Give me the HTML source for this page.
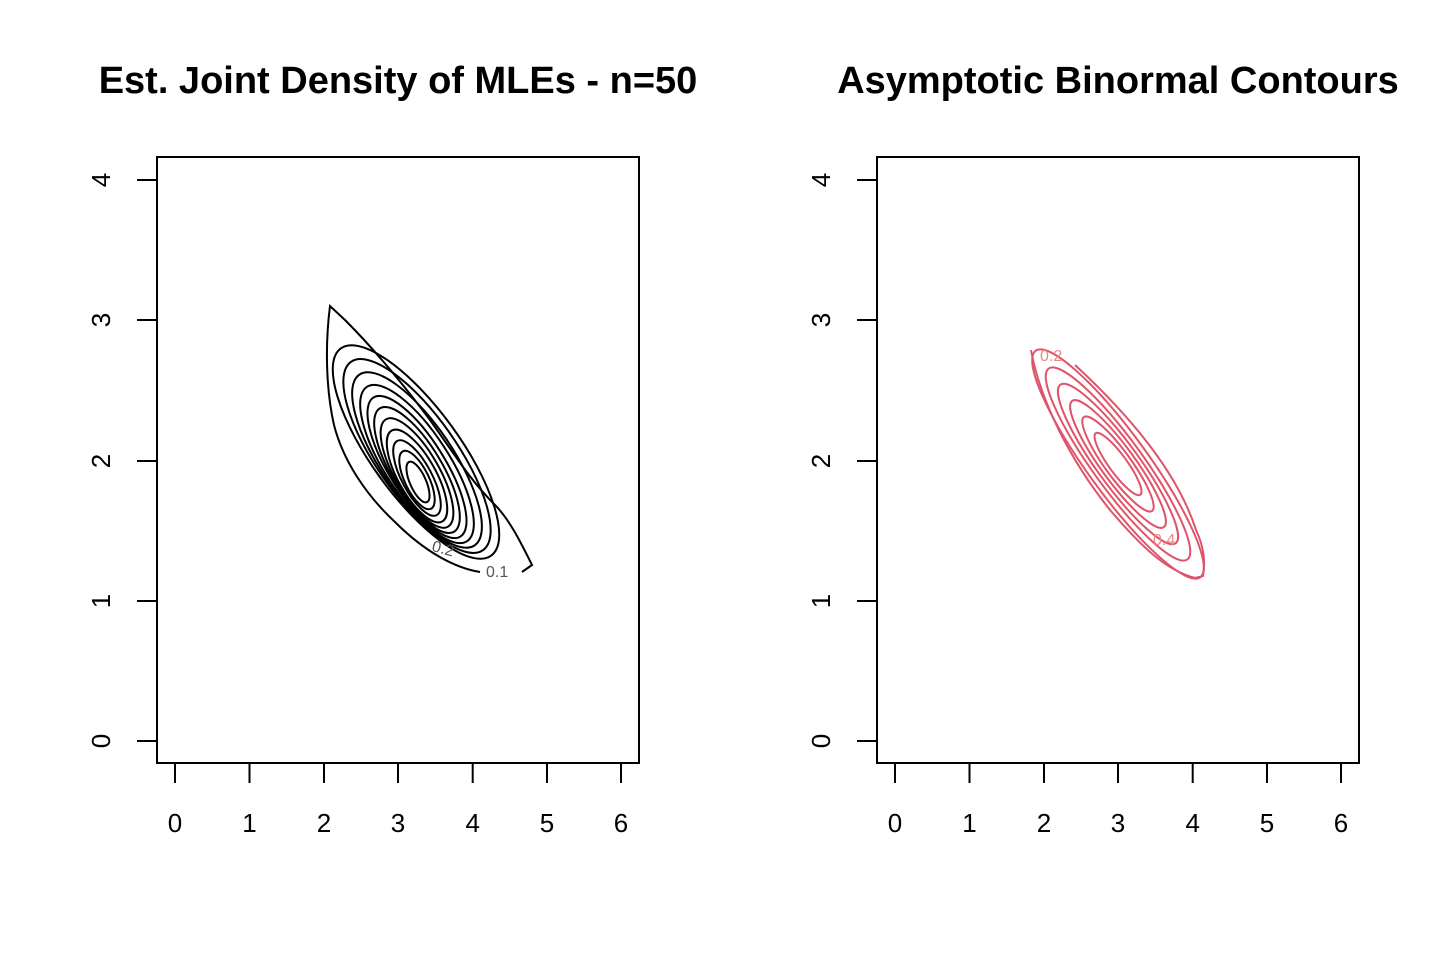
<!DOCTYPE html>
<html><head><meta charset="utf-8"><style>
html,body{margin:0;padding:0;background:#fff}
svg{display:block}
text{font-family:"Liberation Sans",sans-serif}
</style></head><body>
<svg width="1440" height="960" viewBox="0 0 1440 960" xmlns="http://www.w3.org/2000/svg">
<rect width="1440" height="960" fill="#fff"/>
<g font-size="38" font-weight="bold" text-anchor="middle">
<text x="398" y="93">Est. Joint Density of MLEs - n=50</text>
<text x="1118" y="93">Asymptotic Binormal Contours</text>
</g>
<g fill="none" stroke="#000" stroke-width="2">
<rect x="157" y="157" width="482" height="606"/>
<rect x="877" y="157" width="482" height="606"/>
<path d="M137,741H157M137,601H157M137,461H157M137,320H157M137,180H157"/>
<path d="M857,741H877M857,601H877M857,461H877M857,320H877M857,180H877"/>
<path d="M175,763V783M249.5,763V783M324,763V783M398,763V783M472.7,763V783M547,763V783M621,763V783"/>
<path d="M895,763V783M969.5,763V783M1044,763V783M1118,763V783M1192.7,763V783M1267,763V783M1341,763V783"/>
</g>
<g font-size="26" text-anchor="middle">
<text x="175" y="832">0</text><text x="249.5" y="832">1</text><text x="324" y="832">2</text><text x="398" y="832">3</text><text x="472.7" y="832">4</text><text x="547" y="832">5</text><text x="621" y="832">6</text>
<text x="895" y="832">0</text><text x="969.5" y="832">1</text><text x="1044" y="832">2</text><text x="1118" y="832">3</text><text x="1192.7" y="832">4</text><text x="1267" y="832">5</text><text x="1341" y="832">6</text>
<g transform="translate(110,0)">
<text transform="translate(0,741) rotate(-90)">0</text>
<text transform="translate(0,601) rotate(-90)">1</text>
<text transform="translate(0,461) rotate(-90)">2</text>
<text transform="translate(0,320) rotate(-90)">3</text>
<text transform="translate(0,180) rotate(-90)">4</text>
</g>
<g transform="translate(830,0)">
<text transform="translate(0,741) rotate(-90)">0</text>
<text transform="translate(0,601) rotate(-90)">1</text>
<text transform="translate(0,461) rotate(-90)">2</text>
<text transform="translate(0,320) rotate(-90)">3</text>
<text transform="translate(0,180) rotate(-90)">4</text>
</g>
</g>
<!-- left contours -->
<g fill="none" stroke="#000" stroke-width="2">
<path d="M480,572 C455,568 425,552 395,522 C365,494 343,460 334,425 C326,390 325,345 330,306 L345,320 C370,345 400,380 430,420 C455,455 470,480 495,505 C510,520 522,545 532,565 L522,572"/>
<ellipse cx="416" cy="452" rx="128" ry="44" transform="rotate(54 416 452)"/>
<ellipse cx="417" cy="456" rx="115" ry="40" transform="rotate(55 417 456)"/>
<ellipse cx="417" cy="460" rx="103" ry="36" transform="rotate(56 417 460)"/>
<ellipse cx="417" cy="464" rx="92" ry="32" transform="rotate(57 417 464)"/>
<ellipse cx="417" cy="467" rx="82" ry="28" transform="rotate(58 417 467)"/>
<ellipse cx="417" cy="470" rx="72" ry="25" transform="rotate(59 417 470)"/>
<ellipse cx="417" cy="473" rx="62" ry="22" transform="rotate(60 417 473)"/>
<ellipse cx="417" cy="476" rx="52" ry="19" transform="rotate(61 417 476)"/>
<ellipse cx="417" cy="478" rx="42" ry="15" transform="rotate(62 417 478)"/>
<ellipse cx="417" cy="480" rx="32" ry="12" transform="rotate(64 417 480)"/>
<ellipse cx="418" cy="482" rx="22" ry="8" transform="rotate(66 418 482)"/>
</g>
<g font-size="16" fill="#555">
<text x="486" y="577">0.1</text>
<text x="432" y="553" transform="rotate(15 440 548)">0.2</text>
</g>
<!-- right contours -->
<g fill="none" stroke="#e0536a" stroke-width="2">
<path d="M1031,350 C1040,400 1070,460 1110,510 C1140,545 1165,570 1195,578 L1203,576 C1206,560 1203,545 1196,530 C1180,480 1140,425 1075,365"/>
<ellipse cx="1118" cy="464" rx="140" ry="30" transform="rotate(54 1118 464)"/>
<ellipse cx="1118" cy="464" rx="118" ry="25" transform="rotate(54 1118 464)"/>
<ellipse cx="1118" cy="464" rx="98" ry="21" transform="rotate(54 1118 464)"/>
<ellipse cx="1118" cy="464" rx="78" ry="17" transform="rotate(54 1118 464)"/>
<ellipse cx="1118" cy="464" rx="58" ry="13" transform="rotate(54 1118 464)"/>
<ellipse cx="1118" cy="464" rx="38" ry="9" transform="rotate(54 1118 464)"/>
</g>
<g font-size="16" fill="#e88">
<text x="1040" y="361">0.2</text>
<text x="1153" y="545">0.4</text>
</g>
</svg>
</body></html>
